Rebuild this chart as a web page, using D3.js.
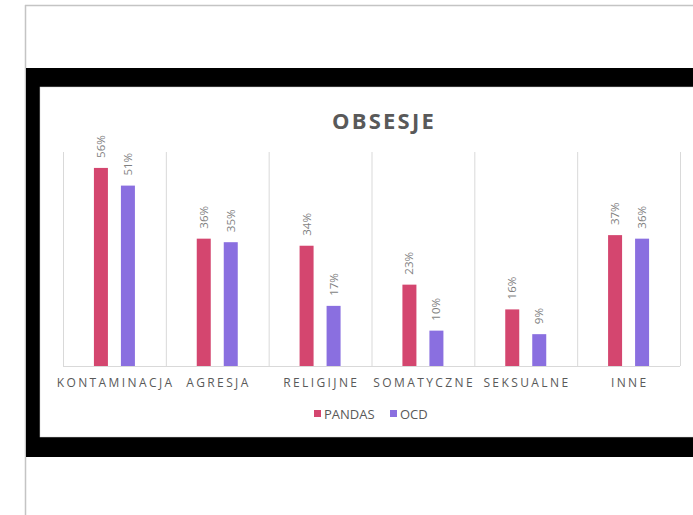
<!DOCTYPE html>
<html>
<head>
<meta charset="utf-8">
<script src="https://cdn.jsdelivr.net/npm/d3@7"></script>
<style>
html,body{margin:0;padding:0;background:#fff;}
svg{display:block;font-family:"Open Sans",sans-serif;}
</style>
</head>
<body>
<svg id="chart" width="693" height="515"></svg>
<script>
const categories = ["KONTAMINACJA","AGRESJA","RELIGIJNE","SOMATYCZNE","SEKSUALNE","INNE"];
const seriesNames = ["PANDAS","OCD"];
const pandasValues = [56,36,34,23,16,37];
const ocdValues = [51,35,17,10,9,36];
const colors = ["#d4466f","#8a6fe0"];

const svg = d3.select("#chart");

// page frame
svg.append("line").attr("x1",25).attr("x2",693).attr("y1",5.5).attr("y2",5.5).attr("stroke","#c4c4c4").attr("stroke-width",1.5);
svg.append("line").attr("x1",25.5).attr("x2",25.5).attr("y1",5).attr("y2",515).attr("stroke","#c4c4c4").attr("stroke-width",1.5);
svg.append("rect").attr("x",26).attr("y",68).attr("width",700).attr("height",389).attr("fill","#000");
svg.append("rect").attr("x",40).attr("y",87).attr("width",700).attr("height",350).attr("fill","#fff").attr("stroke","#d0d0d0").attr("stroke-width",0.5);

const plotTop = 152, plotBottom = 366;
const x0 = d3.scaleBand().domain(categories).range([63,680]).paddingInner(0).paddingOuter(0);
const bw = x0.bandwidth();
const x1 = d3.scaleBand().domain(seriesNames).range([bw/2-20.5, bw/2+20.5]).paddingInner(0.4815).paddingOuter(0);
const y = d3.scaleLinear().domain([0,60.5]).range([plotBottom, plotTop]);

// vertical gridlines at category boundaries
const bounds = categories.map(c => x0(c)).concat([x0(categories[categories.length-1]) + bw]);
svg.append("g").selectAll("line").data(bounds).join("line")
  .attr("x1",d=>d+0.5).attr("x2",d=>d+0.5).attr("y1",plotTop).attr("y2",plotBottom)
  .attr("stroke","#d9d9d9").attr("stroke-width",1);
// baseline
svg.append("line").attr("x1",63).attr("x2",680).attr("y1",plotBottom+0.5).attr("y2",plotBottom+0.5)
  .attr("stroke","#d9d9d9").attr("stroke-width",1);

const data = categories.map((c,i)=>({cat:c, vals:[{s:"PANDAS",v:pandasValues[i]},{s:"OCD",v:ocdValues[i]}]}));

const groups = svg.append("g").selectAll("g").data(data).join("g")
  .attr("transform", d=>`translate(${x0(d.cat)},0)`);

groups.selectAll("rect").data(d=>d.vals).join("rect")
  .attr("x", d=>x1(d.s)).attr("width", x1.bandwidth())
  .attr("y", d=>y(d.v)).attr("height", d=>plotBottom - y(d.v))
  .attr("fill", (d,i)=>colors[i]);

groups.selectAll("text").data(d=>d.vals).join("text")
  .attr("transform", d=>`translate(${x1(d.s)+x1.bandwidth()/2},${y(d.v)-10}) rotate(-90)`)
  .attr("text-anchor","start").attr("dy","0.35em")
  .attr("font-size",11.5).attr("fill","#7f7f7f")
  .text(d=>d.v+"%");

// category labels
svg.append("g").selectAll("text").data(categories).join("text")
  .attr("x", d=>x0(d)+bw/2+1.2).attr("y", 387)
  .attr("text-anchor","middle").attr("font-size",12).attr("letter-spacing","2.4px")
  .attr("fill","#595959").text(d=>d);

// title
svg.append("text").attr("x",384).attr("y",129).attr("text-anchor","middle")
  .attr("font-size",22).attr("font-weight","bold").attr("letter-spacing","2.2px")
  .attr("fill","#595959").text("OBSESJE");

// legend
const legendX = [314, 390];
const lg = svg.append("g").selectAll("g").data(seriesNames).join("g")
  .attr("transform",(d,i)=>`translate(${legendX[i]},410)`);
lg.append("rect").attr("width",7).attr("height",7).attr("fill",(d,i)=>colors[i]);
lg.append("text").attr("x",10).attr("y",8.5).attr("font-size",13).attr("fill","#595959").text(d=>d);
</script>
</body>
</html>
